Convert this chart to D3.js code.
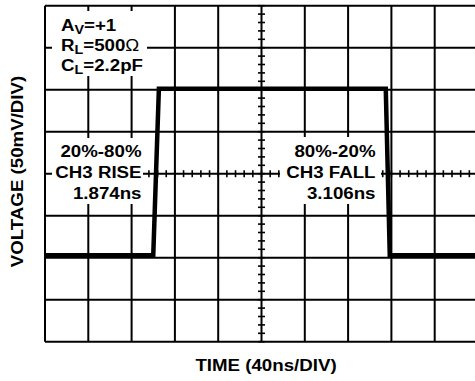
<!DOCTYPE html>
<html><head><meta charset="utf-8">
<script src="https://cdn.jsdelivr.net/npm/d3@7"></script>
<style>body{margin:0;background:#fff}svg{display:block}</style>
</head><body>
<script>
// Data
const timeNs = [0, 100, 105.2, 314.8, 318.5, 400];
const voltageMv = [-97, -97, 101, 101, -97, -97];
const xDivs = d3.range(0, 401, 40);
const yDivs = d3.range(-200, 201, 50);
const xMinor = d3.range(0, 400.1, 8);
const yMinor = d3.range(-200, 200.1, 10);
const condLines = [["A","V","=+1",""],["R","L","=500","Ω"],["C","L","=2.2pF",""]];
const riseLines = ["20%-80%","CH3 RISE","1.874ns"];
const fallLines = ["80%-20%","CH3 FALL","3.106ns"];

const W = 475, H = 381;
const svg = d3.select("body").append("svg").attr("width", W).attr("height", H);
const x = d3.scaleLinear().domain([0, 400]).range([45, 478]);
const y = d3.scaleLinear().domain([-200, 200]).range([341.7, 5.7]);
const font = "'Liberation Sans', Arial, Helvetica, sans-serif";
const SX = 1.1;

// grid
const g = svg.append("g").attr("stroke", "#000").attr("stroke-width", 2);
g.selectAll(".vx").data(xDivs).join("line")
  .attr("x1", d => x(d)).attr("x2", d => x(d)).attr("y1", y(-200)).attr("y2", y(200));
g.selectAll(".hy").data(yDivs).join("line")
  .attr("x1", x(0)).attr("x2", x(400)).attr("y1", d => y(d)).attr("y2", d => y(d));
const tk = svg.append("g").attr("stroke", "#000").attr("stroke-width", 1.6);
tk.selectAll(".mx").data(xMinor).join("line")
  .attr("x1", d => x(d)).attr("x2", d => x(d)).attr("y1", y(0) - 3.5).attr("y2", y(0) + 3.5);
tk.selectAll(".my").data(yMinor).join("line")
  .attr("x1", x(200) - 3.5).attr("x2", x(200) + 3.5).attr("y1", d => y(d)).attr("y2", d => y(d));

// white boxes behind annotations
const boxes = [[52, 11, 95, 65], [52, 138, 91, 66], [280, 137, 101, 67]];
svg.selectAll(".box").data(boxes).join("rect")
  .attr("x", d => d[0]).attr("y", d => d[1]).attr("width", d => d[2]).attr("height", d => d[3])
  .attr("fill", "#fff");

// signal
svg.append("path").datum(timeNs.map((t, i) => [t, voltageMv[i]]))
  .attr("d", d3.line().x(d => x(d[0])).y(d => y(d[1])))
  .attr("fill", "none").attr("stroke", "#000").attr("stroke-width", 4.5)
  .attr("stroke-linejoin", "miter");

function txt(px, py, anchor, size) {
  return svg.append("text")
    .attr("transform", `translate(${px},${py}) scale(${SX},1)`)
    .attr("text-anchor", anchor).attr("font-family", font)
    .attr("font-weight", "bold").attr("font-size", size).attr("fill", "#000");
}
// conditions
const condBase = [31, 51, 71];
condLines.forEach((c, i) => {
  const t = txt(61, condBase[i], "start", 17);
  t.append("tspan").text(c[0]);
  t.append("tspan").attr("font-size", 13).attr("dy", 3).text(c[1]);
  t.append("tspan").attr("dy", -3).text(c[2]);
  if (c[3]) t.append("tspan").attr("font-weight", "normal").text(c[3]);
});
const noteBase = [157, 177.5, 199];
riseLines.forEach((s, i) => txt(141.5, noteBase[i], "end", 17).text(s));
fallLines.forEach((s, i) => txt(375.5, noteBase[i], "end", 17).text(s));

// axis titles
svg.append("text").attr("transform", `translate(266,371) scale(${SX},1)`)
  .attr("text-anchor", "middle").attr("font-family", font).attr("font-weight", "bold")
  .attr("font-size", 17).text("TIME (40ns/DIV)");
svg.append("text").attr("transform", `translate(23,171.5) rotate(-90) scale(${SX},1)`)
  .attr("text-anchor", "middle").attr("font-family", font).attr("font-weight", "bold")
  .attr("font-size", 17).text("VOLTAGE (50mV/DIV)");
</script>
</body></html>
